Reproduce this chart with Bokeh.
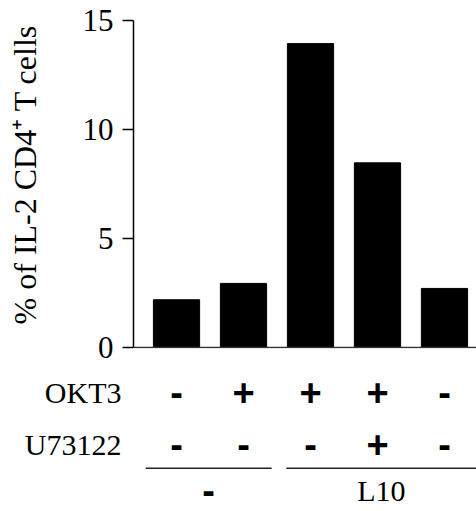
from bokeh.plotting import figure
from bokeh.layouts import column
from bokeh.models import Range1d, Span, ColumnDataSource, FixedTicker
from bokeh.core.properties import value
from bokeh.embed import file_html
from bokeh.resources import INLINE

# ---------------- data ----------------
il2_pct = [2.19, 2.94, 13.94, 8.47, 2.71]        # % of IL-2+ CD4+ T cells
okt3 = ["-", "+", "+", "+", "-"]
u73122 = ["-", "-", "-", "+", "-"]
group_names = ["-", "L10"]
group_members = [[0, 1], [2, 3, 4]]
y_ticks = [0, 5, 10, 15]
row_names = ["OKT3", "U73122"]
y_label = "% of IL-2 CD4\u207a T cells"

# ---------------- layout constants ----------------
SERIF = "Liberation Serif"
SANS = "Liberation Sans"
FS = "30px"
TICK_FS = "31px"
LABEL_FS = "32px"
SIGN_FS = "38px"
W = 476
TOP_H = 365
BOT_H = 511 - TOP_H
PX_PER_UNIT = 21.8
ROW_Y = [26.5, 78.5]          # table rows, px below top of table panel
LINE_Y = 102.7
GROUP_Y = 125.0
GROUP_PAD = [(0.46, 0.42), (0.36, 0.7)]

idx = list(range(len(il2_pct)))
xr = Range1d(-0.642, 4.478)

# ---------------- bar panel ----------------
p = figure(width=W, height=TOP_H, output_backend="svg", toolbar_location=None,
           x_range=xr, y_range=Range1d(-1 / PX_PER_UNIT, 15 + 20 / PX_PER_UNIT),
           x_axis_location=None, min_border_left=133, min_border_right=0,
           min_border_top=0, min_border_bottom=17)
p.outline_line_color = None
p.grid.visible = False

src = ColumnDataSource(dict(x=idx, top=il2_pct))
p.vbar(x="x", top="top", bottom=0, width=0.69, source=src,
       fill_color="black", line_color="black", line_width=1)

p.add_layout(Span(location=0, dimension="width", line_color="#333333", line_width=1.5))

ax = p.yaxis[0]
ax.bounds = (0, 15)
ax.ticker = FixedTicker(ticks=y_ticks)
ax.minor_tick_line_color = None
ax.major_tick_in = 0
ax.major_tick_out = 11
ax.major_tick_line_width = 1.5
ax.axis_line_width = 1.5
ax.axis_line_color = "black"
ax.major_tick_line_color = "black"
ax.major_label_standoff = 9
ax.major_label_text_font = SERIF
ax.major_label_text_font_size = TICK_FS
ax.major_label_text_color = "black"
ax.axis_label = y_label
ax.axis_label_text_font = SERIF
ax.axis_label_text_font_size = LABEL_FS
ax.axis_label_text_font_style = "normal"
ax.axis_label_text_color = "black"
ax.axis_label_standoff = 37

# ---------------- treatment table panel ----------------
t = figure(width=W, height=BOT_H, output_backend="svg", toolbar_location=None,
           x_range=xr, y_range=Range1d(BOT_H, 0),
           x_axis_location=None, min_border_left=133, min_border_right=0,
           min_border_top=0, min_border_bottom=0)
t.outline_line_color = None
t.grid.visible = False

tax = t.yaxis[0]
tax.ticker = FixedTicker(ticks=ROW_Y)
tax.major_label_overrides = {y: n for y, n in zip(ROW_Y, row_names)}
tax.axis_line_color = None
tax.major_tick_line_color = None
tax.minor_tick_line_color = None
tax.major_tick_in = 0
tax.major_tick_out = 0
tax.major_label_standoff = 12
tax.major_label_text_font = SERIF
tax.major_label_text_font_size = FS
tax.major_label_text_color = "black"

for rv, ry in zip([okt3, u73122], ROW_Y):
    s = ColumnDataSource(dict(x=idx, y=[ry] * len(idx), t=rv))
    t.text(x="x", y="y", text="t", source=s, text_align="center",
           text_baseline="middle", text_font=value(SANS),
           text_font_style="bold", text_font_size=SIGN_FS, text_color="black")

x0s, x1s, gx = [], [], []
for members, (pl, pr) in zip(group_members, GROUP_PAD):
    a = members[0] - pl
    b = members[-1] + pr
    x0s.append(a)
    x1s.append(b)
    gx.append((a + min(b, xr.end)) / 2)
t.segment(x0=x0s, x1=x1s, y0=[LINE_Y] * 2, y1=[LINE_Y] * 2,
          line_color="#222222", line_width=1.5)

is_sign = [g in ("+", "-") for g in group_names]
gsrc = ColumnDataSource(dict(
    x=gx, y=[GROUP_Y] * len(gx), t=group_names,
    font=[SANS if s else SERIF for s in is_sign],
    style=["bold" if s else "normal" for s in is_sign],
    size=[SIGN_FS if s else FS for s in is_sign]))
t.text(x="x", y="y", text="t", source=gsrc, text_align="center",
       text_baseline="middle", text_font="font", text_font_style="style",
       text_font_size="size", text_color="black")

layout = column(p, t, spacing=0)
open("out.html", "w").write(file_html(layout, INLINE))
